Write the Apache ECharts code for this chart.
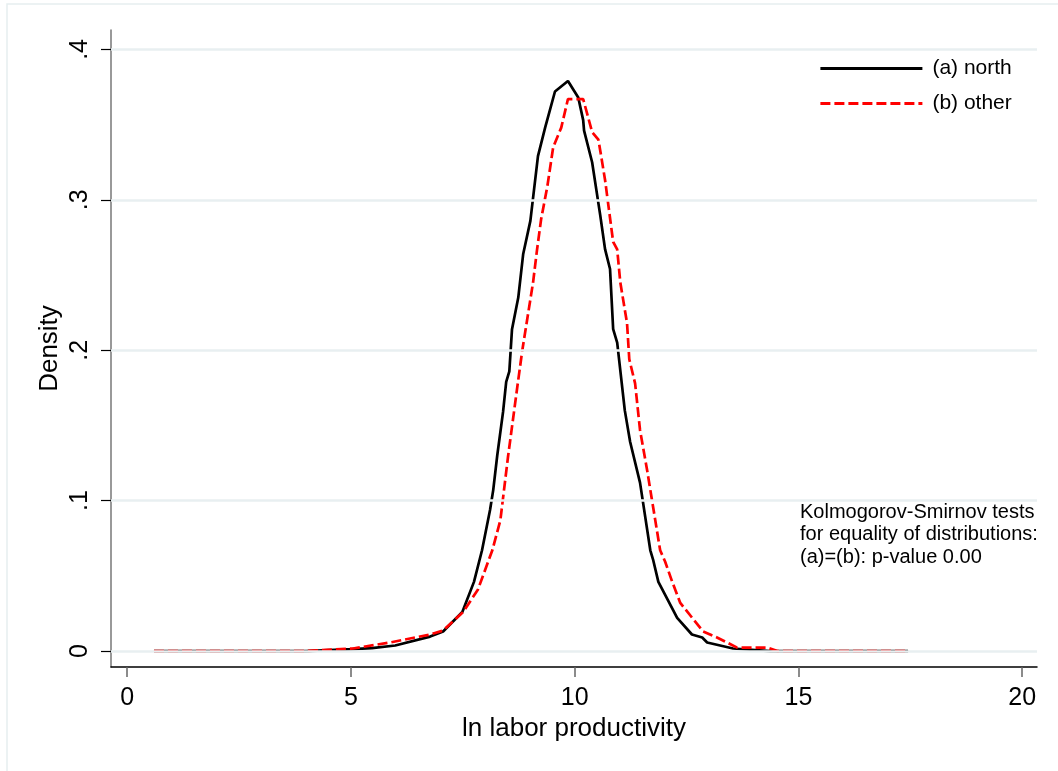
<!DOCTYPE html>
<html>
<head>
<meta charset="utf-8">
<script src="https://cdn.jsdelivr.net/npm/echarts@6/dist/echarts.min.js"></script>
<style>
html,body{margin:0;padding:0;background:#fff;}
#chart{width:1058px;height:771px;}
</style>
</head>
<body>
<div id="chart"></div>
<script>
// ---- data ----
var seriesNames = ['(a) north', '(b) other'];
var northX = [0.60, 4.00, 5.03, 5.47, 5.99, 6.77, 7.06, 7.49, 7.75, 7.93, 8.11, 8.18, 8.27, 8.40, 8.47, 8.54, 8.60, 8.74, 8.85, 9.01, 9.18, 9.34, 9.56, 9.85, 10.08, 10.19, 10.21, 10.39, 10.57, 10.68, 10.79, 10.86, 10.95, 11.12, 11.24, 11.46, 11.69, 11.75, 11.87, 12.29, 12.62, 12.85, 12.96, 13.54, 14.37, 17.45];
var northY = [0, 0, 0.0013, 0.002, 0.0037, 0.0096, 0.013, 0.026, 0.046, 0.067, 0.094, 0.107, 0.130, 0.159, 0.179, 0.186, 0.214, 0.235, 0.264, 0.286, 0.329, 0.348, 0.372, 0.379, 0.368, 0.353, 0.346, 0.325, 0.290, 0.267, 0.254, 0.214, 0.205, 0.160, 0.139, 0.112, 0.067, 0.061, 0.046, 0.022, 0.011, 0.009, 0.0057, 0.0017, 0, 0];
var otherX = [0.60, 4.00, 4.04, 5.05, 5.88, 6.77, 7.06, 7.51, 7.84, 8.16, 8.34, 8.51, 8.72, 8.83, 9.07, 9.16, 9.25, 9.39, 9.52, 9.70, 9.85, 10.19, 10.39, 10.53, 10.57, 10.68, 10.86, 10.95, 11.02, 11.17, 11.22, 11.35, 11.46, 11.62, 11.91, 12.02, 12.18, 12.36, 12.87, 13.18, 13.63, 14.30, 14.53, 17.45];
var otherY = [0, 0, 0.0013, 0.0017, 0.0057, 0.011, 0.0136, 0.026, 0.041, 0.067, 0.087, 0.129, 0.176, 0.200, 0.245, 0.267, 0.287, 0.309, 0.335, 0.348, 0.367, 0.367, 0.345, 0.340, 0.333, 0.313, 0.272, 0.267, 0.245, 0.218, 0.194, 0.178, 0.147, 0.120, 0.067, 0.0595, 0.046, 0.032, 0.013, 0.009, 0.0023, 0.0023, 0, 0];
var xTicks = [0, 5, 10, 15, 20];
var yTicks = [0, 0.1, 0.2, 0.3, 0.4];
var yTickLabels = ['0', '.1', '.2', '.3', '.4'];
var xTitle = 'ln labor productivity';
var yTitle = 'Density';
var noteLines = ['Kolmogorov-Smirnov tests', 'for equality of distributions:', '(a)=(b): p-value 0.00'];

function pairs(xs, ys) { return xs.map(function (x, i) { return [x, ys[i]]; }); }

var FONT = '"Liberation Sans", Arial, Helvetica, sans-serif';
var chart = echarts.init(document.getElementById('chart'), null, {renderer: 'canvas'});
chart.setOption({
  animation: false,
  backgroundColor: '#fff',
  textStyle: {fontFamily: FONT, color: '#000'},
  grid: {left: 111, right: 21, top: 30, bottom: 104, containLabel: false},
  xAxis: {
    type: 'value', min: -0.36, max: 20.33,
    name: xTitle, nameLocation: 'middle', nameGap: 43,
    nameTextStyle: {fontSize: 26, color: '#000', fontFamily: FONT},
    axisLine: {show: true, onZero: false, lineStyle: {color: '#000', width: 1.5}},
    axisTick: {show: true, length: 10, customValues: xTicks, lineStyle: {color: '#666', width: 1.5}},
    axisLabel: {show: true, customValues: xTicks, margin: 19, fontSize: 25, color: '#000', fontFamily: FONT},
    splitLine: {show: false}
  },
  yAxis: {
    type: 'value', min: -0.0106, max: 0.4129,
    name: yTitle, nameLocation: 'middle', nameGap: 48, nameMoveOverlap: false,
    nameTextStyle: {fontSize: 26, color: '#000', fontFamily: FONT},
    axisLine: {show: true, onZero: false, lineStyle: {color: '#777', width: 1.5}},
    axisTick: {show: true, length: 10, customValues: yTicks, lineStyle: {color: '#000', width: 1.2}},
    axisLabel: {show: true, customValues: yTicks, rotate: 90, margin: 18, fontSize: 25, color: '#000', fontFamily: FONT,
      formatter: function (v) { var i = yTicks.findIndex(function (t) { return Math.abs(t - v) < 1e-9; }); return i >= 0 ? yTickLabels[i] : ''; }},
    splitLine: {show: false}
  },
  legend: {
    orient: 'vertical', left: 814, top: 53, itemWidth: 102, itemHeight: 20, itemGap: 14,
    itemStyle: {opacity: 0, borderWidth: 0},
    lineStyle: {width: 2.8},
    textStyle: {fontSize: 21, color: '#000', fontFamily: FONT, padding: [0, 0, 0, 5]},
    data: seriesNames
  },
  series: [
    {
      type: 'line', name: '_grid', data: [], z: 1, silent: true,
      markLine: {
        silent: true, symbol: ['none', 'none'], animation: false,
        label: {show: false},
        lineStyle: {color: '#e8eff1', width: 2.5, type: 'solid'},
        data: yTicks.map(function (t) { return {yAxis: t}; })
      }
    },
    {
      type: 'line', name: seriesNames[0], data: pairs(northX, northY), z: 3,
      showSymbol: false, symbol: 'none',
      lineStyle: {color: '#000', width: 2.7, type: 'solid'},
      itemStyle: {color: '#000'}
    },
    {
      type: 'line', name: seriesNames[1], data: pairs(otherX, otherY), z: 4,
      showSymbol: false, symbol: 'none',
      lineStyle: {color: '#ff0000', width: 2.7, type: [10, 4]},
      itemStyle: {color: '#ff0000'}
    }
  ],
  graphic: [
    {type: 'rect', z: -1, silent: true, shape: {x: 7, y: 4, width: 1100, height: 800},
     style: {fill: 'none', stroke: '#e6eef0', lineWidth: 1.5}},
    {type: 'text', left: 800, top: 501, silent: true,
     style: {text: noteLines.join('\n'), font: '20px ' + FONT, lineHeight: 22.5, fill: '#000'}}
  ]
});
</script>
</body>
</html>
